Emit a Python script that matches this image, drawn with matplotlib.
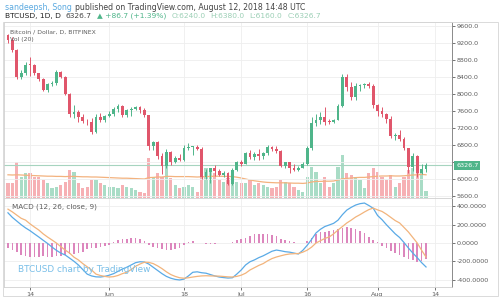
import matplotlib
matplotlib.use("Agg")
import matplotlib.pyplot as plt
import matplotlib.dates as mdates
from matplotlib.patches import Rectangle
import numpy as np
import pandas as pd

# daily candles, 9 May - 12 Aug 2018
start_date = "2018-05-09"
open_ = [9380, 9270, 9040, 8410, 8490, 8690, 8680, 8490, 8360, 8100,
         8240, 8250, 8520, 8400, 8000, 7520, 7580, 7470, 7360, 7350,
         7110, 7450, 7390, 7480, 7530, 7640, 7710, 7500, 7620, 7650,
         7690, 7620, 7500, 6770, 6880, 6550, 6310, 6640, 6400, 6490,
         6450, 6720, 6750, 6760, 6710, 6050, 6160, 6250, 6180, 6090,
         6140, 5880, 6220, 6390, 6360, 6610, 6510, 6590, 6530, 6610,
         6750, 6710, 6660, 6300, 6390, 6250, 6220, 6270, 6360, 6740,
         7320, 7380, 7470, 7350, 7340, 7400, 7720, 8400, 8170, 7940,
         8190, 8210, 8240, 8200, 7730, 7600, 7530, 7420, 7010, 7030,
         6940, 6720, 6280, 6540, 6150, 6240]
high = [9420, 9340, 9050, 8560, 8750, 8880, 8710, 8500, 8380, 8260,
        8300, 8560, 8540, 8420, 8020, 7730, 7620, 7530, 7420, 7440,
        7530, 7550, 7510, 7600, 7690, 7760, 7740, 7650, 7690, 7720,
        7710, 7670, 7510, 6900, 6890, 6620, 6700, 6650, 6540, 6590,
        6800, 6840, 6780, 6800, 6750, 6240, 6270, 6340, 6230, 6180,
        6170, 6250, 6420, 6440, 6640, 6680, 6640, 6700, 6640, 6800,
        6770, 6780, 6690, 6400, 6400, 6350, 6310, 6400, 6780, 7460,
        7540, 7570, 7690, 7420, 7420, 7760, 8480, 8470, 8290, 8270,
        8240, 8260, 8280, 8240, 7760, 7700, 7560, 7490, 7080, 7150,
        7000, 6730, 6620, 6560, 6350, 6380]
low = [9200, 8990, 8350, 8350, 8450, 8420, 8440, 8300, 8080, 8040,
       8180, 8220, 8370, 7980, 7470, 7440, 7340, 7320, 7280, 7060,
       7090, 7340, 7340, 7450, 7480, 7580, 7460, 7460, 7490, 7620,
       7560, 7470, 6690, 6690, 6460, 6120, 6270, 6330, 6370, 6430,
       6430, 6690, 6560, 6690, 6010, 5990, 5900, 6060, 6060, 6040,
       5850, 5860, 6200, 6310, 6350, 6460, 6440, 6450, 6480, 6570,
       6650, 6620, 6290, 6270, 6130, 6190, 6200, 6250, 6340, 6690,
       7240, 7300, 7260, 7300, 7320, 7380, 7700, 8080, 7870, 7850,
       8070, 8150, 8130, 7680, 7480, 7460, 7320, 6960, 6920, 6890,
       6680, 6140, 6190, 6040, 6120, 6160]
close = [9270, 9040, 8410, 8490, 8690, 8680, 8490, 8360, 8100, 8240,
         8250, 8520, 8400, 8000, 7520, 7580, 7470, 7360, 7350, 7110,
         7450, 7390, 7480, 7530, 7640, 7710, 7500, 7620, 7650, 7690,
         7620, 7500, 6770, 6880, 6550, 6310, 6640, 6400, 6490, 6450,
         6720, 6750, 6760, 6710, 6050, 6160, 6250, 6180, 6090, 6140,
         5880, 6220, 6390, 6360, 6610, 6510, 6590, 6530, 6610, 6750,
         6710, 6660, 6300, 6390, 6250, 6220, 6270, 6360, 6740, 7320,
         7380, 7470, 7350, 7340, 7400, 7720, 8400, 8170, 7940, 8190,
         8210, 8240, 8200, 7730, 7600, 7530, 7420, 7010, 7030, 6940,
         6720, 6280, 6540, 6150, 6240, 6326.7]
volume = [7500, 7500, 18000, 10500, 12500, 12500, 10500, 10500, 9000, 7500,
          5000, 5500, 6500, 8000, 14000, 13000, 7500, 5000, 5500, 9000,
          9000, 7500, 6500, 5500, 5500, 5000, 6500, 5500, 5000, 4000,
          3000, 2500, 20000, 10500, 12500, 10500, 16500, 10000, 6500, 5000,
          5500, 6500, 5500, 3000, 10500, 15000, 13000, 12500, 9000, 8000,
          10000, 11500, 8000, 7500, 7500, 9000, 6500, 7500, 6500, 5500,
          5000, 5500, 9000, 8000, 7500, 5500, 4000, 3000, 10500, 15500,
          13000, 7500, 10500, 5500, 7500, 15500, 21500, 12500, 11500, 10500,
          9000, 5000, 12500, 15000, 13000, 10500, 9000, 11500, 5500, 7500,
          10500, 14000, 15000, 14000, 13500, 3500]
vol_ma = [11600, 11500, 11600, 11500, 11400, 11300, 11200, 11100, 11000, 10900,
          10900, 10800, 10800, 10700, 10800, 10800, 10700, 10600, 10600, 10500,
          10500, 10400, 10300, 10200, 10100, 10000, 9900, 9900, 9800, 9700,
          9600, 9500, 10200, 10300, 10500, 10500, 10800, 10800, 10700, 10700,
          10700, 10700, 10600, 10500, 10600, 10700, 10800, 10900, 10900, 10800,
          10800, 10700, 10400, 10000, 9500, 9000, 8600, 8300, 8000, 7800,
          7700, 7600, 7600, 7600, 7500, 7400, 7400, 7300, 7500, 8000,
          8300, 8300, 8400, 8400, 8500, 9000, 9600, 9800, 10000, 10200,
          10300, 10300, 10500, 10700, 10900, 11000, 11000, 11100, 11000, 11000,
          11100, 11300, 11500, 11600, 11800, 11600]

# MACD (12, 26, close, 9)
macd = [330, 280, 240, 200, 165, 135, 100, 66, 30, -5,
        -44, -80, -110, -131, -165, -200, -240, -290, -340, -360,
        -370, -372, -365, -352, -335, -310, -285, -265, -240, -215,
        -205, -208, -230, -265, -300, -335, -365, -385, -398, -404,
        -395, -360, -320, -315, -325, -330, -345, -360, -372, -378,
        -383, -380, -340, -295, -240, -205, -185, -160, -140, -115,
        -90, -77, -85, -95, -100, -110, -120, -80, -25, 40,
        110, 150, 180, 197, 215, 250, 310, 360, 390, 415,
        430, 437, 410, 380, 300, 255, 200, 150, 100, 60,
        5, -55, -110, -160, -215, -262]
signal = [370, 340, 305, 270, 250, 210, 175, 142, 100, 65,
          33, 0, -40, -77, -110, -155, -185, -225, -260, -295,
          -340, -355, -365, -372, -368, -355, -335, -320, -290, -255,
          -230, -210, -212, -225, -250, -280, -315, -345, -365, -380,
          -385, -380, -372, -365, -360, -358, -360, -361, -362, -366,
          -370, -372, -365, -352, -330, -295, -270, -245, -225, -195,
          -170, -153, -140, -128, -120, -117, -115, -100, -78, -45,
          0, 25, 50, 66, 100, 142, 180, 219, 250, 284,
          310, 339, 365, 382, 362, 345, 315, 280, 245, 219,
          170, 120, 60, 0, -80, -153]
hist = [-55, -80, -100, -130, -140, -150, -150, -150, -145, -150,
        -150, -145, -140, -130, -125, -115, -105, -95, -70, -60,
        -50, -40, -30, -20, 10, 30, 40, 45, 55, 50,
        40, 20, -20, -40, -55, -65, -75, -77, -70, -55,
        -25, 15, 18, 5, -5, -10, -8, -10, -5, 3,
        5, 10, 30, 45, 60, 80, 95, 100, 100, 95,
        85, 75, 45, 35, 20, 10, 5, 0, 20, 60,
        95, 115, 125, 135, 140, 150, 165, 175, 165, 150,
        130, 105, 70, 30, 10, -30, -60, -90, -110, -130,
        -150, -170, -185, -205, -200, -170]

date_ticks = ["2018-05-14", "2018-06-01", "2018-06-18", "2018-07-01",
              "2018-07-16", "2018-08-01", "2018-08-14"]
date_labels = ["14", "Jun", "18", "Jul", "16", "Aug", "14"]
price_ticks = [5600, 6000, 6400, 6800, 7200, 7600, 8000, 8400, 8800, 9200, 9600]
macd_ticks = [-400, -200, 0, 200, 400]

UP = "#4fb58a"
DOWN = "#e0566b"
TXT = "#5d5d5d"
GRID = "#eeeeee"

W, H = 500, 300


def px(x, y):
    return x / W, 1 - y / H


def text_row(fig, x0, y, pieces, size, gap=4):
    # lay pieces out left to right, each one after the previous text ends
    renderer = fig.canvas.get_renderer()
    xpos = x0
    for s, color in pieces:
        t = fig.text(*px(xpos, y), s, fontsize=size, color=color, va="center")
        xpos += t.get_window_extent(renderer).width + gap


dates = pd.date_range(start_date, periods=len(close))
x = mdates.date2num(dates)
o = np.array(open_, float)
c = np.array(close, float)
up = c >= o
day0 = x[0]
xlim = (day0 - 0.9, day0 + 100.9)

fig = plt.figure(figsize=(5, 3), dpi=100)
fig.patch.set_facecolor("white")

ax1 = fig.add_axes([4 / W, 1 - 198 / H, 448 / W, 176 / H])
ax2 = fig.add_axes([4 / W, 1 - 287 / H, 448 / W, 89 / H], sharex=ax1)
axv = ax1.twinx()
axv.set_zorder(ax1.get_zorder() - 1)
ax1.patch.set_visible(False)

# volume
vcol = np.where(up, "#a9dcc6", "#f6b0b4")
axv.bar(x, volume, width=0.7, color=vcol, linewidth=0)
axv.plot(x, vol_ma, color="#f3b27e", lw=0.9)
axv.set_ylim(0, 88000)
axv.set_yticks([])
for s in axv.spines.values():
    s.set_visible(False)

# candles
col = np.where(up, UP, DOWN)
ax1.vlines(x, low, high, colors=col, lw=0.7, zorder=3)
body = np.where(np.abs(c - o) < 15, 15, c - o)
ax1.bar(x, body, bottom=o, width=0.65, color=col, linewidth=0, zorder=4)

# last price line + label
ax1.axhline(c[-1], color="#a6d4bf", lw=0.8, zorder=2)
ax1.annotate(f"{c[-1]:.1f}", xy=(1.0, c[-1]), xycoords=("axes fraction", "data"),
             xytext=(3, 0), textcoords="offset points", va="center", ha="left",
             fontsize=4.6, color="white", annotation_clip=False, zorder=10,
             bbox=dict(boxstyle="square,pad=0.3", fc="#4fb58a", ec="none"))

ax1.set_xlim(*xlim)
ax1.set_ylim(9600 - 172 * 400 / 17, 9600 + 4 * 400 / 17)
ax1.set_yticks(price_ticks)
# the 6400 label sits under the last-price box
ax1.set_yticklabels(["" if v == 6400 else f"{v:.1f}" for v in price_ticks])

# MACD pane
ax2.bar(x, hist, width=0.35, color="#dc86bd", linewidth=0, zorder=2)
ax2.plot(x, macd, color="#5aaae6", lw=0.9, zorder=3)
ax2.plot(x, signal, color="#f2b47c", lw=0.9, zorder=3)
ax2.set_ylim(-481, 492)
ax2.set_yticks(macd_ticks)
ax2.set_yticklabels([f"{v:.4f}" for v in macd_ticks])
ax2.text(8 / 448, 1 - 9 / 89, "MACD (12, 26, close, 9)", transform=ax2.transAxes,
         fontsize=5.2, color=TXT, va="center")
ax2.text(14 / 448, 1 - 72 / 89, "BTCUSD chart by TradingView", transform=ax2.transAxes,
         fontsize=6.4, color="#79bfe8", va="center")

tick_x = mdates.date2num(pd.to_datetime(date_ticks))

for ax in (ax1, ax2):
    ax.yaxis.tick_right()
    ax.tick_params(axis="y", labelsize=4.6, colors=TXT, length=2, width=0.6, pad=1.5)
    ax.tick_params(axis="x", labelsize=4.6, colors=TXT, length=2, width=0.6, pad=1.5)
    ax.set_xticks(tick_x)
    ax.grid(True, color=GRID, lw=0.6)
    ax.set_axisbelow(True)
    for side in ("left", "top", "bottom"):
        ax.spines[side].set_color("#d0d0d0")
        ax.spines[side].set_linewidth(0.6)
    ax.spines["right"].set_color("#8a8a8a")
    ax.spines["right"].set_linewidth(0.7)
ax2.set_xticklabels(date_labels)
plt.setp(ax1.get_xticklabels(), visible=False)
ax1.tick_params(axis="x", length=0)

# legends inside the price pane
fig.text(*px(10, 32), "Bitcoin / Dollar, D, BITFINEX", fontsize=4.4, color=TXT, va="center")
fig.text(*px(10, 40), "Vol (20)", fontsize=4.4, color=TXT, va="center")

# header
text_row(fig, 5, 7, [("sandeepsh, Song", "#5aa9e0"),
                     ("published on TradingView.com, August 12, 2018 14:48 UTC", "#444444")],
         5.6, gap=3)
chg = c[-1] - c[-2]
text_row(fig, 5, 16, [("BTCUSD, 1D, D", "#222222"),
                      (f"{c[-1]:.1f}", "#444444"),
                      (f"\u25b2 +{chg:.1f} (+{chg / c[-2] * 100:.2f}%)", UP),
                      (f"O:{o[-1]:.1f}", "#9bcfb5"),
                      (f"H:{high[-1]:.1f}", "#9bcfb5"),
                      (f"L:{low[-1]:.1f}", "#9bcfb5"),
                      (f"C:{c[-1]:.1f}", "#9bcfb5")],
         5.4, gap=5)

# outer frame
fig.add_artist(Rectangle(px(3, 296), 495 / W, 274 / H, transform=fig.transFigure,
                         fill=False, ec="#d5d5d5", lw=0.6))

fig.savefig("out.png", dpi=100, facecolor="white")
